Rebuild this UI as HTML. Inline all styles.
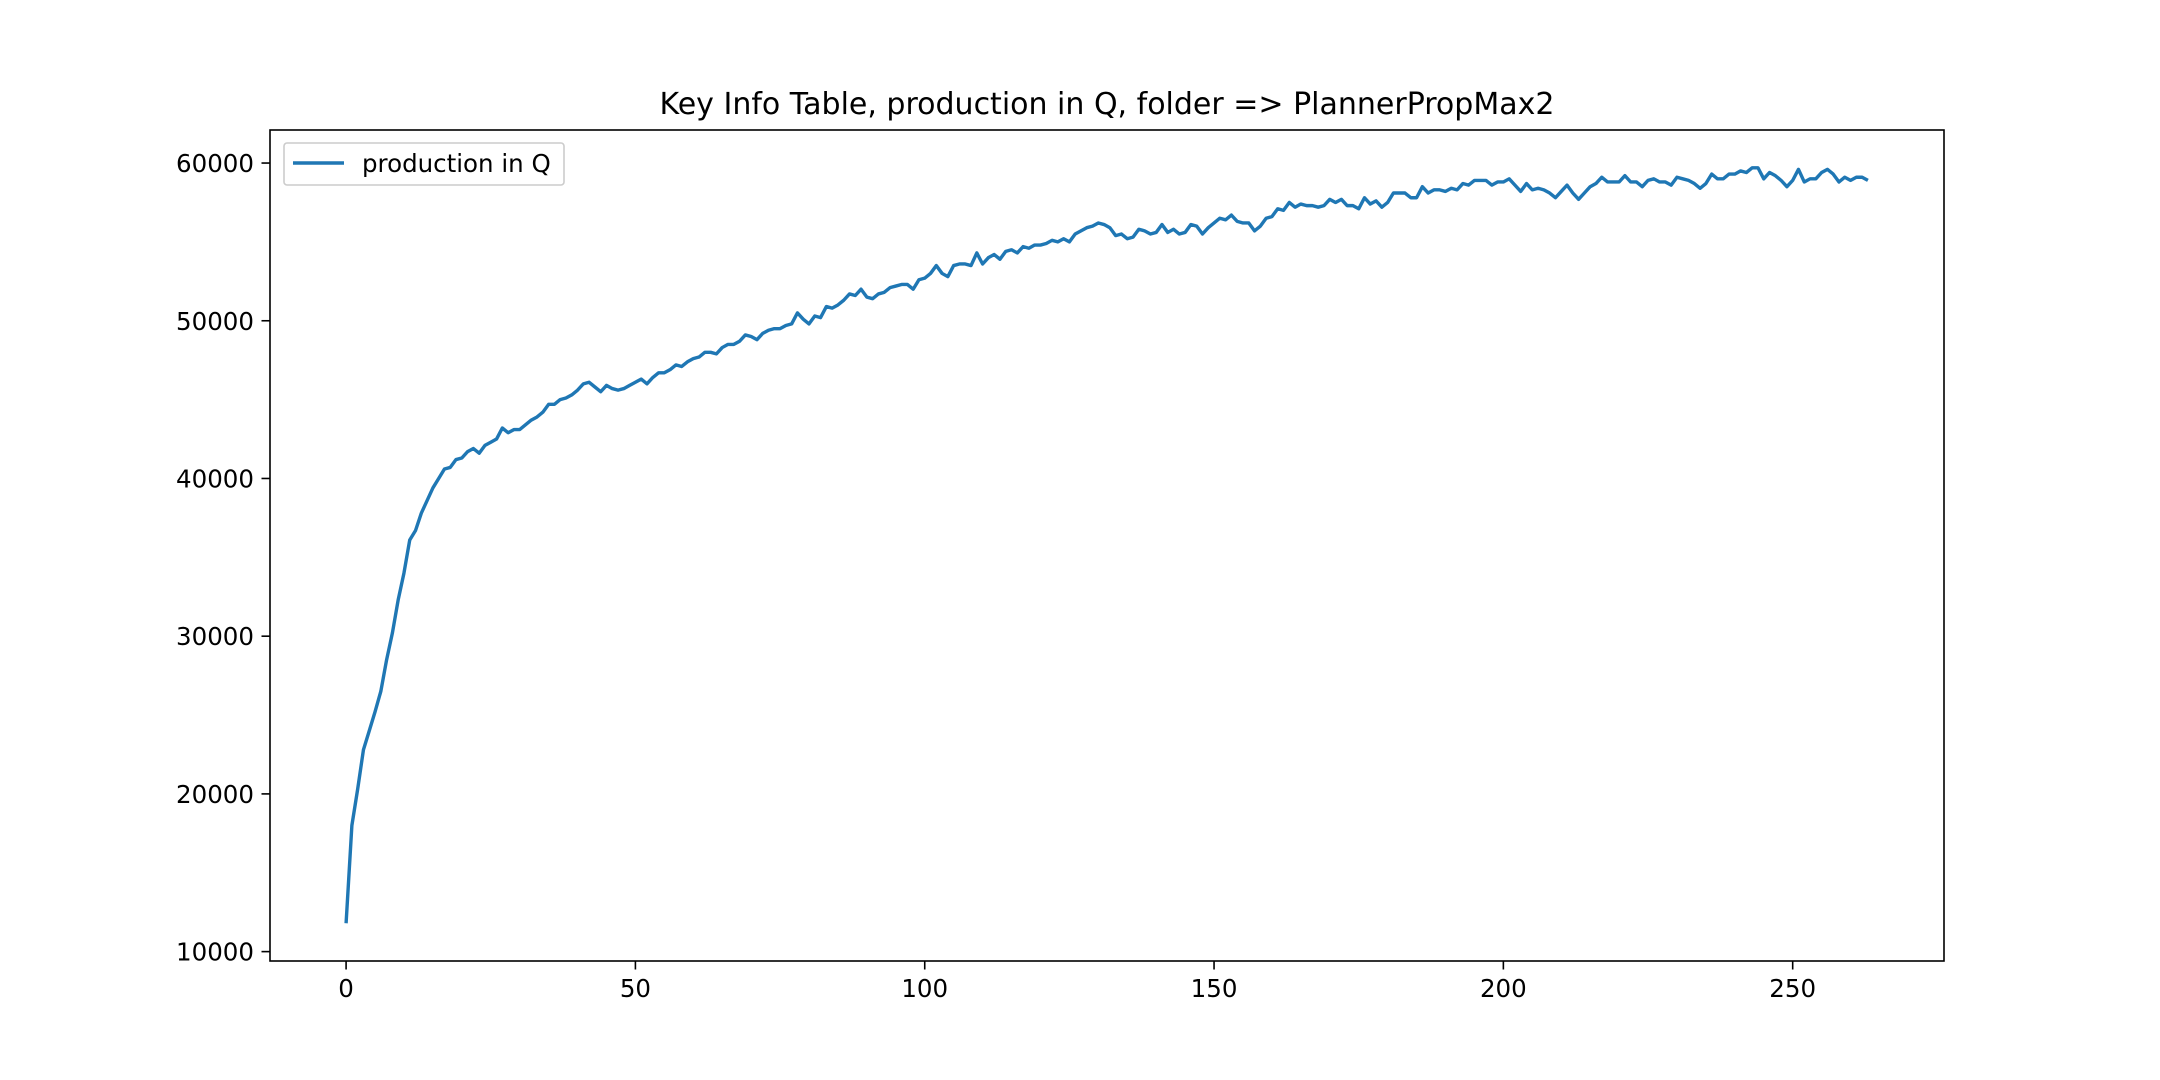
<!DOCTYPE html>
<html><head><meta charset="utf-8"><style>
body{margin:0;background:#fff}
svg{display:block;font-family:"DejaVu Sans","Liberation Sans",sans-serif}
</style></head><body>
<svg id="chart" width="2160" height="1080" viewBox="0 0 2160 1080">
<rect width="2160" height="1080" fill="#fff"/>
<text x="1107" y="114" font-size="30" text-anchor="middle">Key Info Table, production in Q, folder =&gt; PlannerPropMax2</text>
<g id="ticks"></g>
<path id="line" fill="none" stroke="#1f77b4" stroke-width="3.4" stroke-linejoin="round"/>
<rect x="270" y="130" width="1674" height="831" fill="none" stroke="#000" stroke-width="1.6"/>
<g>
<rect x="284" y="143" width="280" height="42" rx="3" fill="#fff" fill-opacity="0.8" stroke="#ccc" stroke-width="1.6"/>
<line x1="293" y1="163" x2="344" y2="163" stroke="#1f77b4" stroke-width="3.4"/>
<text x="362" y="172" font-size="24.5">production in Q</text>
</g>
</svg>
<script>
const values=[11800,18000,20300,22800,24000,25200,26500,28500,30200,32300,34000,36100,36700,37800,38600,39400,40000,40600,40700,41200,41300,41700,41900,41600,42100,42300,42500,43200,42900,43100,43100,43400,43700,43900,44200,44700,44700,45000,45100,45300,45600,46000,46100,45800,45500,45900,45700,45600,45700,45900,46100,46300,46000,46400,46700,46700,46900,47200,47100,47400,47600,47700,48000,48000,47900,48300,48500,48500,48700,49100,49000,48800,49200,49400,49500,49500,49700,49800,50500,50100,49800,50300,50200,50900,50800,51000,51300,51700,51600,52000,51500,51400,51700,51800,52100,52200,52300,52300,52000,52600,52700,53000,53500,53000,52800,53500,53600,53600,53500,54300,53600,54000,54200,53900,54400,54500,54300,54700,54600,54800,54800,54900,55100,55000,55200,55000,55500,55700,55900,56000,56200,56100,55900,55400,55500,55200,55300,55800,55700,55500,55600,56100,55600,55800,55500,55600,56100,56000,55500,55900,56200,56500,56400,56700,56300,56200,56200,55700,56000,56500,56600,57100,57000,57500,57200,57400,57300,57300,57200,57300,57700,57500,57700,57300,57300,57100,57800,57400,57600,57200,57500,58100,58100,58100,57800,57800,58500,58100,58300,58300,58200,58400,58300,58700,58600,58900,58900,58900,58600,58800,58800,59000,58600,58200,58700,58300,58400,58300,58100,57800,58200,58600,58100,57700,58100,58500,58700,59100,58800,58800,58800,59200,58800,58800,58500,58900,59000,58800,58800,58600,59100,59000,58900,58700,58400,58700,59300,59000,59000,59300,59300,59500,59400,59700,59700,59000,59400,59200,58900,58500,58900,59600,58800,59000,59000,59400,59600,59300,58800,59100,58900,59100,59100,58900];
const xTicks=[0,50,100,150,200,250];
const yTicks=[10000,20000,30000,40000,50000,60000];
const L=270,R=1944,T=130,B=961;
const n=values.length-1;
const xmin=-0.05*n,xmax=n*1.05;
const vmin=Math.min(...values),vmax=Math.max(...values),pad=(vmax-vmin)*0.05;
const ymin=vmin-pad,ymax=vmax+pad;
const sx=v=>L+(v-xmin)/(xmax-xmin)*(R-L);
const sy=v=>B-(v-ymin)/(ymax-ymin)*(B-T);
const NS='http://www.w3.org/2000/svg';
document.getElementById('line').setAttribute('d',values.map((v,i)=>(i?'L':'M')+sx(i).toFixed(2)+','+sy(v).toFixed(2)).join(''));
const g=document.getElementById('ticks');
xTicks.forEach(t=>{
 const ln=document.createElementNS(NS,'line');
 ln.setAttribute('x1',sx(t));ln.setAttribute('x2',sx(t));ln.setAttribute('y1',B);ln.setAttribute('y2',B+8.5);
 ln.setAttribute('stroke','#000');ln.setAttribute('stroke-width','1.6');
 
 
 g.appendChild(ln);
 const tx=document.createElementNS(NS,'text');
 tx.setAttribute('x',sx(t));tx.setAttribute('y',B+36);tx.setAttribute('font-size','24.5');tx.setAttribute('text-anchor','middle');
 tx.textContent=t;
 
 
 g.appendChild(tx);
});
yTicks.forEach(t=>{
 const ln=document.createElementNS(NS,'line');
 ln.setAttribute('x1',L-8.5);ln.setAttribute('x2',L);ln.setAttribute('y1',sy(t));ln.setAttribute('y2',sy(t));
 ln.setAttribute('stroke','#000');ln.setAttribute('stroke-width','1.6');
 
 
 g.appendChild(ln);
 const tx=document.createElementNS(NS,'text');
 tx.setAttribute('x',L-16);tx.setAttribute('y',sy(t)+9);tx.setAttribute('font-size','24.5');tx.setAttribute('text-anchor','end');
 tx.textContent=t;
 
 
 g.appendChild(tx);
});
</script>
</body></html>
